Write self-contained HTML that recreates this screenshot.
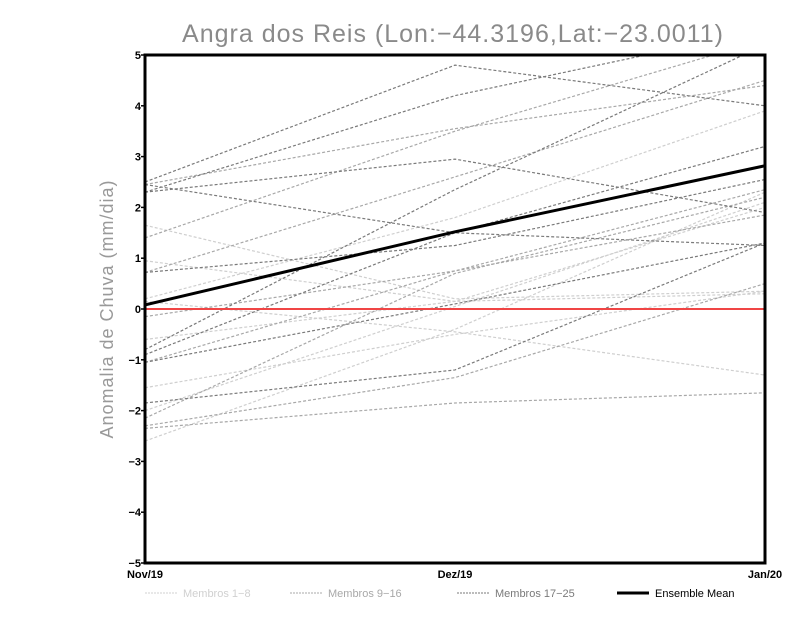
<!DOCTYPE html>
<html><head><meta charset="utf-8"><style>
body{margin:0;background:#fff;}
svg{display:block;font-family:"Liberation Sans",sans-serif;}
</style></head><body>
<svg id="chart" width="800" height="618" viewBox="0 0 800 618">
<text x="453" y="42" text-anchor="middle" font-size="25" fill="#8a8a8a" letter-spacing="1">Angra dos Reis (Lon:−44.3196,Lat:−23.0011)</text>
<text transform="translate(113,309) rotate(-90)" text-anchor="middle" font-size="18" fill="#999" letter-spacing="1">Anomalia de Chuva (mm/dia)</text>
<defs><clipPath id="pc"><rect x="145" y="55" width="620" height="508"/></clipPath></defs>
<g id="series" clip-path="url(#pc)"></g>
<g id="axes"></g>
<g id="legend"></g>
</svg>
<script>
const categories = ["Nov/19","Dez/19","Jan/20"];
const yTicks = [-5,-4,-3,-2,-1,0,1,2,3,4,5];
const group1 = [[1.65,0.2,0.35],[0.95,0.15,0.3],[0.2,1.8,3.9],[-2.6,-0.4,2.3],[-2.0,0.05,2.1],[-1.55,-0.5,0.35],[0.15,-0.45,-1.3],[-0.6,0.15,2.0]];
const group2 = [[2.45,3.55,4.4],[1.4,3.5,5.3],[0.72,2.6,4.5],[-2.3,-1.35,0.5],[-2.35,-1.85,-1.65],[-2.15,0.7,2.2],[-0.15,0.75,1.85],[-1.05,0.75,2.35]];
const group3 = [[2.5,4.8,4.0],[2.3,4.2,5.5],[2.3,2.95,1.9],[2.45,1.5,1.25],[0.72,1.25,2.55],[-0.8,2.35,5.2],[-0.9,1.5,3.2],[-1.05,0.1,1.3],[-1.85,-1.2,1.3]];
const ensembleMean = [0.08,1.52,2.82];

const NS="http://www.w3.org/2000/svg";
const x0=145,x1=765,yTop=55,yBot=563;
function xs(i){return x0+(x1-x0)*i/(categories.length-1);}
function ys(v){return yBot-(v+5)/10*(yBot-yTop);}
function mk(tag,attrs,parent){const e=document.createElementNS(NS,tag);for(const k in attrs)e.setAttribute(k,attrs[k]);parent.appendChild(e);return e;}
const gS=document.getElementById('series'),gA=document.getElementById('axes'),gL=document.getElementById('legend');
function pts(arr){return arr.map((v,i)=>xs(i)+','+ys(v)).join(' ');}
function drawGroup(g,color,name){g.forEach((s,k)=>{const p=mk('polyline',{points:pts(s),fill:'none',stroke:color,'stroke-width':1.2,'stroke-dasharray':'3,2'},gS);

});}
drawGroup(group1,'#cfcfcf','member-1-8');
drawGroup(group2,'#a8a8a8','member-9-16');
drawGroup(group3,'#7a7a7a','member-17-25');
const zl=mk('line',{x1:x0,x2:x1,y1:ys(0),y2:ys(0),stroke:'#f04545','stroke-width':2},gS);


const mean=mk('polyline',{points:pts(ensembleMean),fill:'none',stroke:'#000','stroke-width':3},gS);


const fr=mk('rect',{x:x0,y:yTop,width:x1-x0,height:yBot-yTop,fill:'none',stroke:'#000','stroke-width':3},gA);


yTicks.forEach(t=>{const y=ys(t);
mk('line',{x1:x0-4,x2:x0,y1:y,y2:y,stroke:'#000','stroke-width':1.5},gA);
const tx=mk('text',{x:x0-4,y:y+4,'text-anchor':'end','font-size':11,'font-weight':'bold'},gA);tx.textContent=String(t).replace('-','−');

});
categories.forEach((c,i)=>{const x=xs(i);
const tx=mk('text',{x:x,y:578,'text-anchor':'middle','font-size':11,'font-weight':'bold'},gA);tx.textContent=c;

});
const leg=[['#d0d0d0','Membros 1−8',145,1],['#a8a8a8','Membros 9−16',290,1],['#7a7a7a','Membros 17−25',457,1],['#000','Ensemble Mean',617,3]];
leg.forEach(l=>{mk('line',{x1:l[2],x2:l[2]+32,y1:593,y2:593,stroke:l[3]>1?'#000':l[0],'stroke-width':l[3]>1?3:1,'stroke-dasharray':l[3]>1?'none':'2,1'},gL);
const tx=mk('text',{x:l[2]+38,y:597,'font-size':11,fill:l[3]>1?'#000':l[0]},gL);tx.textContent=l[1];

});
</script>
</body></html>
